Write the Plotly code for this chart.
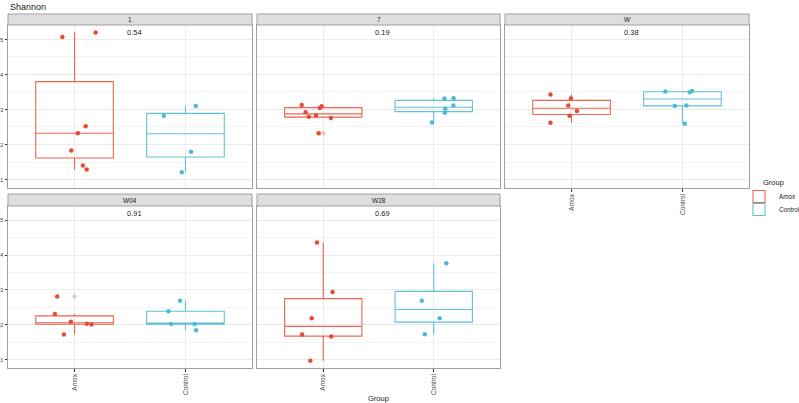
import numpy as np
import plotly.graph_objects as go

# ---------------- data ----------------
facets = ["1", "7", "W", "W04", "W28"]
groups = ["Amox", "Control"]
pvalues = ["0.54", "0.19", "0.38", "0.91", "0.69"]

amox_1 = [5.07, 5.20, 2.52, 2.32, 1.83, 1.40, 1.29]
control_1 = [2.82, 3.10, 1.79, 1.21]
amox_7 = [3.13, 2.92, 2.79, 2.83, 3.04, 3.09, 2.76, 2.32]
control_7 = [3.31, 3.32, 3.11, 3.02, 2.91, 2.63]
amox_W = [3.43, 3.31, 3.11, 2.96, 2.82, 2.62]
control_W = [3.51, 3.49, 3.53, 3.10, 3.11, 2.59]
amox_W04 = [2.81, 2.31, 2.09, 2.03, 2.01, 1.72]
control_W04 = [2.69, 2.39, 2.02, 2.02, 1.84]
amox_W28 = [4.36, 2.94, 2.19, 1.72, 1.66, 0.97]
control_W28 = [3.77, 2.69, 2.19, 1.73]

# horizontal jitter of each point (as seen in the picture)
jit_amox_1 = [-0.11, 0.19, 0.10, 0.03, -0.03, 0.075, 0.11]
jit_control_1 = [-0.195, 0.093, 0.051, -0.033]
jit_amox_7 = [-0.195, -0.16, -0.13, -0.066, -0.03, -0.015, 0.069, -0.042]
jit_control_7 = [0.097, 0.18, 0.178, 0.105, 0.10, -0.015]
jit_amox_W = [-0.19, -0.006, -0.03, 0.048, -0.018, -0.19]
jit_control_W = [-0.154, 0.066, 0.087, -0.069, 0.036, 0.021]
jit_amox_W04 = [-0.156, -0.177, -0.033, 0.111, 0.153, -0.096]
jit_control_W04 = [-0.048, -0.153, -0.129, 0.081, 0.096]
jit_amox_W28 = [-0.057, 0.084, -0.105, -0.192, 0.072, -0.117]
jit_control_W28 = [0.114, -0.108, 0.054, -0.081]

values = {
    "1": (amox_1, control_1), "7": (amox_7, control_7), "W": (amox_W, control_W),
    "W04": (amox_W04, control_W04), "W28": (amox_W28, control_W28),
}
jitters = {
    "1": (jit_amox_1, jit_control_1), "7": (jit_amox_7, jit_control_7),
    "W": (jit_amox_W, jit_control_W), "W04": (jit_amox_W04, jit_control_W04),
    "W28": (jit_amox_W28, jit_control_W28),
}

# ---------------- styling / layout ----------------
W, H = 799, 403
FONT = "Liberation Sans, Arial, Helvetica, sans-serif"
colors = {"Amox": "#E64B35", "Control": "#4DBBD5"}
line_colors = {"Amox": "rgba(230,75,53,0.85)", "Control": "rgba(77,187,213,0.9)"}
faded = {"Amox": "rgba(230,75,53,0.3)", "Control": "rgba(77,187,213,0.3)"}
legend_names = {"Amox": "legend", "Control": "legend2"}
legend_y_px = {"Amox": 182, "Control": 195}

cols_px = [(8, 252), (257, 500), (505, 749)]
rows_px = [(25, 188), (206, 368)]
strips_px = [(14, 25), (194, 206)]
panel_pos = [(0, 0), (0, 1), (0, 2), (1, 0), (1, 1)]

all_vals = np.concatenate([np.array(v) for pair in values.values() for v in pair])
lo, hi = all_vals.min(), all_vals.max()
pad = (hi - lo) * 0.05
yrange = [lo - pad, hi + pad]


def box_stats(v):
    v = np.sort(np.asarray(v, dtype=float))
    q1, med, q3 = np.percentile(v, [25, 50, 75])
    iqr = q3 - q1
    inside = v[(v >= q1 - 1.5 * iqr) & (v <= q3 + 1.5 * iqr)]
    outl = v[(v < q1 - 1.5 * iqr) | (v > q3 + 1.5 * iqr)]
    return q1, med, q3, inside.min(), inside.max(), outl


fig = go.Figure()
layout = dict(
    width=W, height=H, margin=dict(l=0, r=0, t=0, b=0, autoexpand=False),
    paper_bgcolor="white", plot_bgcolor="white", boxmode="overlay",
    font=dict(family=FONT, color="#1A1A1A"),
    showlegend=True,
)
annotations = []
shapes = []

for i, fac in enumerate(facets):
    r, c = panel_pos[i]
    k = i + 1
    xname = "xaxis" if k == 1 else f"xaxis{k}"
    yname = "yaxis" if k == 1 else f"yaxis{k}"
    xref = "x" if k == 1 else f"x{k}"
    yref = "y" if k == 1 else f"y{k}"
    x0, x1 = cols_px[c]
    yt, yb = rows_px[r]
    show_x = (r == 1) or (c == 2)
    show_y = (c == 0)

    layout[xname] = dict(
        domain=[x0 / W, x1 / W], anchor=yref, range=[0.4, 2.6],
        tickvals=[1, 2], ticktext=groups, showticklabels=show_x,
        ticks="outside" if show_x else "", ticklen=2.5, tickwidth=0.8, tickcolor="#333333",
        tickangle=-90, tickfont=dict(size=6.5, color="#4D4D4D", family=FONT),
        showgrid=True, gridcolor="#EBEBEB", gridwidth=0.8, zeroline=False,
        showline=True, mirror=True, linecolor="#A0A0A0", linewidth=1,
    )
    layout[yname] = dict(
        domain=[1 - yb / H, 1 - yt / H], anchor=xref, range=yrange,
        tickvals=[1, 2, 3, 4, 5], showticklabels=show_y,
        ticks="outside" if show_y else "", ticklen=2.5, tickwidth=0.8, tickcolor="#333333",
        tickfont=dict(size=6, color="#4D4D4D", family=FONT),
        showgrid=True, gridcolor="#EBEBEB", gridwidth=0.8, zeroline=False,
        minor=dict(tickvals=[1.5, 2.5, 3.5, 4.5], showgrid=True, gridcolor="#F4F4F4", gridwidth=0.5),
        showline=True, mirror=True, linecolor="#A0A0A0", linewidth=1,
    )

    for g_idx, g in enumerate(groups):
        v = values[fac][g_idx]
        jit = jitters[fac][g_idx]
        pos = g_idx + 1
        q1, med, q3, lf, uf, outl = box_stats(v)
        fig.add_trace(go.Box(
            x=[pos], q1=[q1], median=[med], q3=[q3], lowerfence=[lf], upperfence=[uf],
            width=0.7, whiskerwidth=0, boxpoints=False,
            line=dict(color=line_colors[g], width=1.1), fillcolor="rgba(255,255,255,0)",
            name=g, legendgroup=g, showlegend=(i == 0), legend=legend_names[g],
            xaxis=xref, yaxis=yref, hoverinfo="skip",
        ))
        if len(outl):
            fig.add_trace(go.Scatter(
                x=[pos] * len(outl), y=outl, mode="markers",
                marker=dict(color=faded[g], size=4.5),
                showlegend=False, xaxis=xref, yaxis=yref, hoverinfo="skip",
            ))
        fig.add_trace(go.Scatter(
            x=[pos + j for j in jit], y=v, mode="markers",
            marker=dict(color=colors[g], size=4.5),
            showlegend=False, legendgroup=g, xaxis=xref, yaxis=yref,
        ))

    # p-value label
    annotations.append(dict(
        x=1.54, y=5.2, xref=xref, yref=yref, text=pvalues[i], showarrow=False,
        font=dict(size=7.5, color="#1A1A1A", family=FONT),
    ))
    # strip
    st, sb = strips_px[r]
    shapes.append(dict(
        type="rect", xref="paper", yref="paper",
        x0=x0 / W, x1=x1 / W, y0=1 - sb / H, y1=1 - st / H,
        fillcolor="#DEDEDE", line=dict(color="#A0A0A0", width=1), layer="above",
    ))
    annotations.append(dict(
        x=(x0 + x1) / 2 / W, y=1 - (st + sb) / 2 / H, xref="paper", yref="paper",
        text=fac, showarrow=False, font=dict(size=6.5, color="#1A1A1A", family=FONT),
        xanchor="center", yanchor="middle",
    ))

# title, axis title, legend title
annotations.append(dict(
    x=8 / W, y=1 - 0.5 / H, xref="paper", yref="paper", text="Shannon",
    showarrow=False, xanchor="left", yanchor="top",
    font=dict(size=9, color="#1A1A1A", family=FONT),
))
annotations.append(dict(
    x=378 / W, y=1 - 398 / H, xref="paper", yref="paper", text="Group",
    showarrow=False, xanchor="center", yanchor="middle",
    font=dict(size=7.5, color="#1A1A1A", family=FONT),
))
annotations.append(dict(
    x=761 / W, y=1 - 183 / H, xref="paper", yref="paper", text="Group",
    showarrow=False, xanchor="left", yanchor="middle",
    font=dict(size=7.5, color="#1A1A1A", family=FONT),
))

layout["annotations"] = annotations
layout["shapes"] = shapes
for g in groups:
    layout[legend_names[g]] = dict(
        font=dict(size=6.3, family=FONT, color="#1A1A1A"),
        x=739 / W, y=1 - legend_y_px[g] / H, xanchor="left", yanchor="top",
        bgcolor="rgba(0,0,0,0)", itemwidth=30, tracegroupgap=0,
    )
fig.update_layout(**layout)
fig.write_html("out.html", config={"displayModeBar": False},
               post_script="document.body.style.margin='0';")
